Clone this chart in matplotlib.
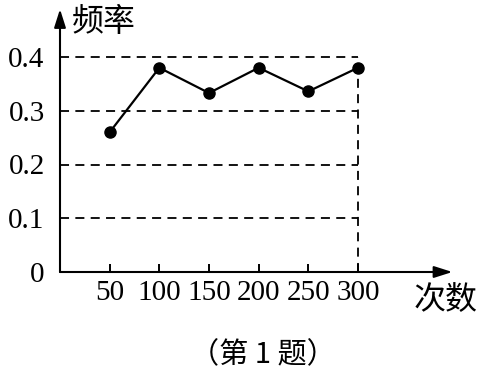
import matplotlib

matplotlib.use("Agg")
import matplotlib.pyplot as plt

# data
trials = [50, 100, 150, 200, 250, 300]
freq = [0.26, 0.38, 0.333, 0.38, 0.336, 0.38]
y_grid = [0.1, 0.2, 0.3, 0.4]
y_labels = ["0", "0.1", "0.2", "0.3", "0.4"]
x_labels = ["50", "100", "150", "200", "250", "300"]

CJK = ["Noto Sans CJK SC", "DejaVu Sans"]
SERIF = "Liberation Serif"

W, H = 484, 374
fig = plt.figure(figsize=(W / 100, H / 100), dpi=100)
# axes box: origin at pixel (60, 272), x=300 at px 358, y=0.4 at px 57
ax = fig.add_axes([60 / W, (H - 272) / H, 298 / W, 215 / H])
ax.set_xlim(0, 300)
ax.set_ylim(0, 0.4)
for s in ax.spines.values():
    s.set_visible(False)

# dashed guide lines
dash = dict(color="black", lw=1.3, ls=(0, (5, 3.5)), clip_on=False)
for yv in y_grid:
    ax.plot([0, trials[-1]], [yv, yv], **dash)
ax.plot([trials[-1], trials[-1]], [0, max(y_grid)], **dash)

# axes with arrows
arrow = dict(arrowstyle="-|>,head_length=1.1,head_width=0.35",
             color="black", lw=1.5, shrinkA=0, shrinkB=0)
ax.annotate("", xy=(395, 0), xytext=(0, 0), arrowprops=arrow,
            annotation_clip=False)
ax.annotate("", xy=(0, 0.489), xytext=(0, 0), arrowprops=arrow,
            annotation_clip=False)

# the line
ax.plot(trials, freq, color="black", lw=1.6, marker="o", ms=8,
        clip_on=False, zorder=3)

# ticks
ax.set_xticks(trials, x_labels)
ax.tick_params(axis="x", direction="in", length=6, width=1.4, pad=6,
               labelsize=21)
ax.set_yticks([0] + y_grid, y_labels)
ax.tick_params(axis="y", length=0, pad=11, labelsize=21)
for lab in ax.get_xticklabels() + ax.get_yticklabels():
    lab.set_fontfamily(SERIF)

# axis titles and caption (pixel positions)
fig.text(72 / W, 1 - 22 / H, "频率", family=CJK, fontsize=23,
         ha="left", va="center")
fig.text(414 / W, 1 - 300 / H, "次数", family=CJK, fontsize=23,
         ha="left", va="center")
fig.text(263 / W, 1 - 355 / H, "（第 1 题）", family=CJK, fontsize=21,
         ha="center", va="center")

fig.savefig("out.png", dpi=100)
